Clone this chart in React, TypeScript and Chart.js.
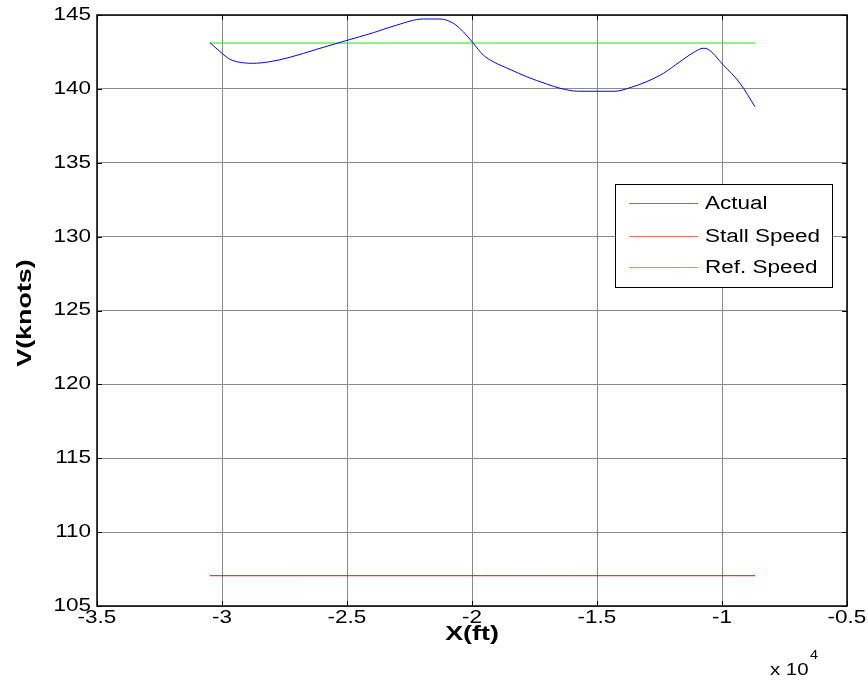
import React, { useEffect, useRef } from "react";
import { Chart, registerables } from "chart.js";

Chart.register(...registerables);

// X positions in units of 10^4 ft
const actualX = [-3.048, -3.008, -2.968, -2.935, -2.879, -2.808, -2.728, -2.621, -2.505, -2.395, -2.301, -2.195, -2.128, -2.075, -2.035, -1.997, -1.955, -1.915, -1.848, -1.781, -1.701, -1.648, -1.575, -1.428, -1.368, -1.301, -1.235, -1.168, -1.115, -1.075, -1.061, -0.995, -0.928, -0.868];
const actualV = [143.13, 142.52, 142.0, 141.82, 141.73, 141.84, 142.14, 142.68, 143.26, 143.8, 144.32, 144.73, 144.73, 144.44, 143.87, 143.13, 142.29, 141.84, 141.32, 140.82, 140.33, 140.04, 139.84, 139.84, 140.08, 140.49, 141.05, 141.84, 142.45, 142.75, 142.72, 141.62, 140.38, 138.79];
const limitX = [-3.048, -0.868];
const stallV = [107.05, 107.05];
const refV = [143.1, 143.1];

const seriesLabels = ["Actual", "Stall Speed", "Ref. Speed"];
const seriesColors = ["#0000ff", "#ff0000", "#00ff00"];
const legendColors = ["#6a6aff", "#ff6a6a", "#33ee33"];
const xLabel = "X(ft)";
const yLabel = "V(knots)";
const expBase = "x 10";
const expPow = "4";

const FONT = "'Liberation Sans', Arial, sans-serif";
const SX = 1.25;

function txt(ctx: any, s: string, x: number, y: number, align: string, sx: number, rot = 0) {
  ctx.save();
  ctx.translate(x, y);
  if (rot) ctx.rotate(rot);
  ctx.scale(sx, 1);
  ctx.textAlign = align;
  ctx.fillText(s, 0, 0);
  ctx.restore();
}

function fmt(v: number) {
  return String(Number(v.toFixed(3)));
}

const matlabPlugin = {
  id: "matlabDecor",
  afterDraw(chart: any) {
    const { ctx, chartArea } = chart;
    const { left, right, top, bottom } = chartArea;
    const xs = chart.scales.x;
    const ys = chart.scales.y;
    ctx.save();
    // inward tick marks
    ctx.strokeStyle = "#000";
    ctx.lineWidth = 1;
    const tl = 5;
    xs.ticks.forEach((t: any) => {
      const px = Math.round(xs.getPixelForValue(t.value)) + 0.5;
      ctx.beginPath();
      ctx.moveTo(px, bottom);
      ctx.lineTo(px, bottom - tl);
      ctx.moveTo(px, top);
      ctx.lineTo(px, top + tl);
      ctx.stroke();
    });
    ys.ticks.forEach((t: any) => {
      const py = Math.round(ys.getPixelForValue(t.value)) + 0.5;
      ctx.beginPath();
      ctx.moveTo(left, py);
      ctx.lineTo(left + tl, py);
      ctx.moveTo(right, py);
      ctx.lineTo(right - tl, py);
      ctx.stroke();
    });
    // axes box
    ctx.lineWidth = 1.5;
    ctx.strokeRect(left, top, right - left, bottom - top);

    // tick labels
    ctx.fillStyle = "#000";
    ctx.font = `18px ${FONT}`;
    ctx.textBaseline = "middle";
    xs.ticks.forEach((t: any) => {
      txt(ctx, fmt(t.value), xs.getPixelForValue(t.value), bottom + 12, "center", SX);
    });
    ys.ticks.forEach((t: any) => {
      txt(ctx, fmt(t.value), left - 6, ys.getPixelForValue(t.value), "right", SX);
    });

    // legend
    const lx = 615, ly = 184, lw = 217, lh = 103;
    ctx.fillStyle = "#fff";
    ctx.fillRect(lx, ly, lw, lh);
    ctx.lineWidth = 1;
    ctx.strokeStyle = "#000";
    ctx.strokeRect(lx + 0.5, ly + 0.5, lw, lh);
    const rows = [203, 236, 267];
    ctx.font = `18px ${FONT}`;
    ctx.textBaseline = "middle";
    chart.data.datasets.forEach((ds: any, i: number) => {
      ctx.strokeStyle = legendColors[i];
      ctx.beginPath();
      ctx.moveTo(629, rows[i] + 0.5);
      ctx.lineTo(698, rows[i] + 0.5);
      ctx.stroke();
      ctx.fillStyle = "#000";
      txt(ctx, ds.label, 705, rows[i] + 1, "left", SX);
    });

    // axis titles
    ctx.fillStyle = "#000";
    ctx.font = `bold 21px ${FONT}`;
    ctx.textBaseline = "middle";
    txt(ctx, xLabel, (left + right) / 2, 634, "center", 1.28);
    txt(ctx, yLabel, 25, 313, "center", 1.28, -Math.PI / 2);

    // exponent
    ctx.font = `17px ${FONT}`;
    ctx.textBaseline = "alphabetic";
    txt(ctx, expBase, 770, 675, "left", 1.2);
    ctx.font = `12px ${FONT}`;
    txt(ctx, expPow, 810, 659, "left", 1.2);
    ctx.restore();
  },
};

export default function App() {
  const ref = useRef<HTMLCanvasElement | null>(null);
  useEffect(() => {
    if (!ref.current) return;
    const chart = new Chart(ref.current, {
      type: "line",
      data: {
        datasets: [
          {
            label: seriesLabels[0],
            data: actualX.map((x, i) => ({ x, y: actualV[i] })),
            borderColor: seriesColors[0],
            borderWidth: 1,
            pointRadius: 0,
            cubicInterpolationMode: "monotone",
          },
          {
            label: seriesLabels[1],
            data: limitX.map((x, i) => ({ x, y: stallV[i] })),
            borderColor: seriesColors[1],
            borderWidth: 1,
            pointRadius: 0,
          },
          {
            label: seriesLabels[2],
            data: limitX.map((x, i) => ({ x, y: refV[i] })),
            borderColor: seriesColors[2],
            borderWidth: 1,
            pointRadius: 0,
          },
        ],
      },
      options: {
        responsive: false,
        animation: false,
        layout: { padding: { top: 15, right: 21, left: 0, bottom: 0 } },
        plugins: { legend: { display: false }, tooltip: { enabled: false } },
        scales: {
          x: {
            type: "linear",
            min: -3.5,
            max: -0.5,
            afterFit: (s: any) => {
              s.height = 79;
            },
            ticks: { stepSize: 0.5, display: false },
            grid: { color: "#8a8a8a", drawTicks: false, lineWidth: 1 },
            border: { display: false },
          },
          y: {
            type: "linear",
            min: 105,
            max: 145,
            afterFit: (s: any) => {
              s.width = 97;
            },
            ticks: { stepSize: 5, display: false },
            grid: { color: "#8a8a8a", drawTicks: false, lineWidth: 1 },
            border: { display: false },
          },
        },
      },
      plugins: [matlabPlugin],
    } as any);
    return () => chart.destroy();
  }, []);
  return (
    <div style={{ position: "absolute", left: 0, top: 0, width: 868, height: 685, background: "#fff" }}>
      <canvas ref={ref} width={868} height={685} style={{ width: 868, height: 685 }} />
    </div>
  );
}
